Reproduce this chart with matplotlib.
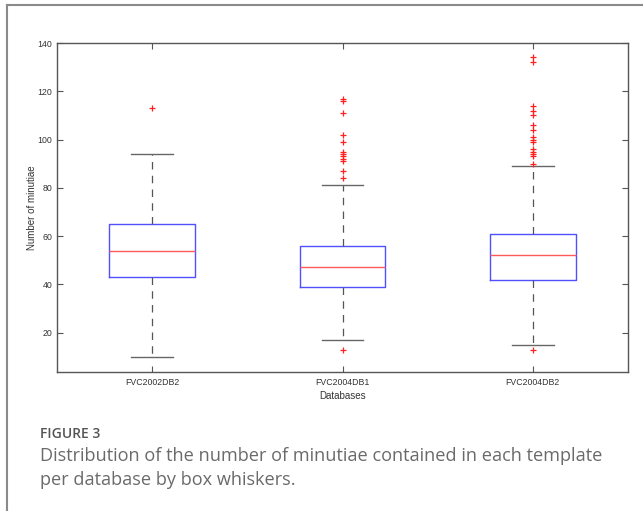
import matplotlib
matplotlib.use("Agg")
import matplotlib.pyplot as plt
from matplotlib.lines import Line2D

categories = ["FVC2002DB2", "FVC2004DB1", "FVC2004DB2"]
q1 = [43, 39, 42]
medians = [54, 47, 52]
q3 = [65, 56, 61]
whisker_low = [10, 17, 15]
whisker_high = [94, 81, 89]
outliers = [
    [113],
    [13, 84, 87, 91, 92, 93, 94, 95, 99, 102, 111, 116, 117],
    [13, 90, 93, 94, 95, 96, 99, 100, 101, 104, 106, 110, 112, 114, 132, 134],
]
yticks = [20, 40, 60, 80, 100, 120, 140]

stats = []
for i, name in enumerate(categories):
    stats.append(dict(label=name, q1=q1[i], med=medians[i], q3=q3[i],
                      whislo=whisker_low[i], whishi=whisker_high[i],
                      fliers=outliers[i]))

fig = plt.figure(figsize=(6.43, 5.11), dpi=100)
ax = fig.add_axes([57/643, 1-372/511, (628-57)/643, (372-43)/511])

ax.bxp(stats, positions=[1, 2, 3], widths=0.45, capwidths=0.22,
       boxprops=dict(color="#5050ff", linewidth=1.0),
       medianprops=dict(color="#ff5a5a", linewidth=1.0),
       whiskerprops=dict(color="#555555", linewidth=0.9, linestyle=(0, (6, 5))),
       capprops=dict(color="#666666", linewidth=1.0),
       flierprops=dict(marker="+", markeredgecolor="#ff2020", markersize=5,
                       markeredgewidth=0.9, linestyle="none"))

ax.set_xlim(0.5, 3.5)
ax.set_ylim(3.7, 140)
ax.set_yticks(yticks)
ax.set_xticks([1, 2, 3])
ax.set_xticklabels(categories)
ax.tick_params(direction="in", top=True, right=True, length=4, width=0.8,
               colors="#555555", labelsize=6.3, labelcolor="#333333")
ax.tick_params(axis="x", pad=4)
for s in ax.spines.values():
    s.set_color("#555555")
    s.set_linewidth(1.0)
ax.set_xlabel("Databases", fontsize=7, color="#333333", labelpad=3,
              family="Liberation Sans")
ax.set_ylabel("Number of minutiae", fontsize=7, color="#333333", labelpad=0,
              family="Liberation Sans")
for lab in ax.get_xticklabels() + ax.get_yticklabels():
    lab.set_family("Liberation Sans")

# frame lines
fig.add_artist(Line2D([6.5/643, 1], [1-5.5/511, 1-5.5/511], color="#8a8a8a", linewidth=1.5,
                      transform=fig.transFigure))
fig.add_artist(Line2D([6.5/643, 6.5/643], [0, 1-5.5/511], color="#8a8a8a", linewidth=1.5,
                      transform=fig.transFigure))

fig.text(40/643, 1-438/511, "FIGURE 3", fontsize=10, color="#555555",
         family="Open Sans", weight="semibold")
fig.text(40/643, 1-461/511, "Distribution of the number of minutiae contained in each template",
         fontsize=13.1, color="#6a6a6a", family="Open Sans")
fig.text(40/643, 1-485/511, "per database by box whiskers.",
         fontsize=13.1, color="#6a6a6a", family="Open Sans")

fig.savefig("out.png", dpi=100)
